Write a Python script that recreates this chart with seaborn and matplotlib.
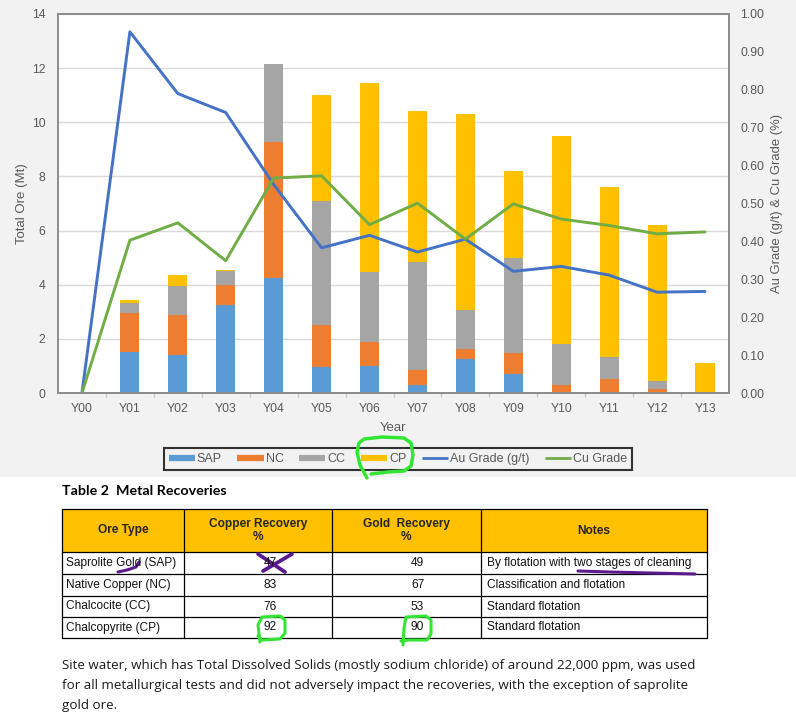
import numpy as np
import pandas as pd
import seaborn as sns
import matplotlib.pyplot as plt
from matplotlib.patches import Rectangle
from matplotlib.lines import Line2D

# ore production by type (Mt) and head grades
years = ['Y00', 'Y01', 'Y02', 'Y03', 'Y04', 'Y05', 'Y06',
         'Y07', 'Y08', 'Y09', 'Y10', 'Y11', 'Y12', 'Y13']
sap = [0, 1.51, 1.40, 3.25, 4.25, 0.97, 0.99, 0.28, 1.26, 0.70, 0.0, 0.0, 0.0, 0.0]
nc = [0, 1.45, 1.49, 0.73, 5.02, 1.55, 0.91, 0.58, 0.38, 0.78, 0.31, 0.53, 0.15, 0.0]
cc = [0, 0.37, 1.05, 0.54, 2.88, 4.56, 2.57, 3.98, 1.41, 3.51, 1.50, 0.79, 0.28, 0.0]
cp = [0, 0.12, 0.43, 0.04, 0.0, 3.91, 6.98, 5.57, 7.26, 3.20, 7.69, 6.28, 5.76, 1.10]
au_grade = [0, 0.953, 0.790, 0.740, 0.550, 0.383, 0.416, 0.372, 0.406, 0.321, 0.334, 0.311, 0.266, 0.268]
cu_grade = [0, 0.403, 0.449, 0.349, 0.567, 0.573, 0.444, 0.501, 0.406, 0.499, 0.459, 0.442, 0.420, 0.425]

# table 2
headers = ['Ore Type', 'Copper Recovery\n%', 'Gold  Recovery\n%', 'Notes']
ore_types = ['Saprolite Gold (SAP)', 'Native Copper (NC)', 'Chalcocite (CC)', 'Chalcopyrite (CP)']
cu_rec = ['47', '83', '76', '92']
au_rec = ['49', '67', '53', '90']
notes = ['By flotation with two stages of cleaning', 'Classification and flotation',
         'Standard flotation', 'Standard flotation']
paragraph = ['Site water, which has Total Dissolved Solids (mostly sodium chloride) of around 22,000 ppm, was used',
             'for all metallurgical tests and did not adversely impact the recoveries, with the exception of saprolite',
             'gold ore.']

colors = {'SAP': '#5B9BD5', 'NC': '#ED7D31', 'CC': '#A5A5A5', 'CP': '#FFC000'}
au_col = '#4472C4'
cu_col = '#70AD47'
bg = '#f2f2f2'
txt = '#595959'

sns.set_theme(style='white')
plt.rcParams['font.family'] = ['Liberation Sans', 'DejaVu Sans']

W, H = 796, 714
fig = plt.figure(figsize=(W / 100, H / 100), dpi=100, facecolor='white')
fig.add_artist(Rectangle((0, 1 - 477 / H), 1, 477 / H, transform=fig.transFigure,
                         facecolor=bg, edgecolor='none', zorder=-10))

ax = fig.add_axes([58 / W, 1 - 393 / H, (729 - 58) / W, (393 - 14) / H])
ax.set_facecolor('white')

df = pd.DataFrame({'Year': years, 'SAP': sap, 'NC': nc, 'CC': cc, 'CP': cp})
df['c1'] = df['SAP']
df['c2'] = df['c1'] + df['NC']
df['c3'] = df['c2'] + df['CC']
df['c4'] = df['c3'] + df['CP']

# stacked bars: draw cumulative totals from the top down
for col, key in [('c4', 'CP'), ('c3', 'CC'), ('c2', 'NC'), ('c1', 'SAP')]:
    sns.barplot(data=df, x='Year', y=col, color=colors[key], width=0.4,
                saturation=1, linewidth=0, errorbar=None, ax=ax)

ax.set_xlim(-0.5, 13.5)
ax.set_ylim(0, 14)
ax.set_yticks(range(0, 15, 2))
ax.set_xticks(np.arange(0.5, 13, 1), minor=True)
ax.yaxis.grid(True, color='#d9d9d9', lw=1)
ax.set_axisbelow(True)
ax.set_xlabel('Year', fontsize=9.5, color=txt, labelpad=5)
ax.set_ylabel('Total Ore (Mt)', fontsize=9.5, color=txt, labelpad=3)
ax.tick_params(axis='both', length=0, labelsize=8.7, labelcolor=txt)
ax.tick_params(axis='x', which='minor', length=3, width=1, color='#c8c8c8', bottom=True)
ax.tick_params(axis='x', pad=7)
ax.tick_params(axis='y', pad=9)

ax2 = ax.twinx()
idx = np.arange(len(years))
sns.lineplot(x=idx, y=au_grade, color=au_col, lw=2.1, ax=ax2)
sns.lineplot(x=idx, y=cu_grade, color=cu_col, lw=2.1, ax=ax2)
ax2.set_ylim(0, 1)
ax2.set_yticks(np.arange(0, 1.01, 0.1))
ax2.set_yticklabels([f'{v:.2f}' for v in np.arange(0, 1.01, 0.1)])
ax2.tick_params(axis='y', length=0, labelsize=8.7, labelcolor=txt, pad=8)
ax2.set_ylabel('Au Grade (g/t) & Cu Grade (%)', fontsize=9.4, color=txt, labelpad=5)
ax2.grid(False)
for a in (ax, ax2):
    for s in a.spines.values():
        s.set_color('#8c8c8c')
        s.set_linewidth(1.2)

handles = [Line2D([], [], color=colors[k], lw=4.5, solid_capstyle='butt') for k in ['SAP', 'NC', 'CC', 'CP']]
handles += [Line2D([], [], color=au_col, lw=2, solid_capstyle='butt'),
            Line2D([], [], color=cu_col, lw=2, solid_capstyle='butt')]
leg = fig.legend(handles, ['SAP', 'NC', 'CC', 'CP', 'Au Grade (g/t)', 'Cu Grade'],
                 loc='center', bbox_to_anchor=(398 / W, 1 - 459 / H), ncol=6,
                 frameon=True, fancybox=False, fontsize=9, handlelength=2.1,
                 handletextpad=0.15, columnspacing=1.25, borderpad=0.4,
                 labelcolor=txt)
leg.get_frame().set_edgecolor('black')
leg.get_frame().set_linewidth(1.5)
leg.get_frame().set_facecolor(bg)

# overlay in pixel coordinates for table, text and pen marks
ov = fig.add_axes([0, 0, 1, 1], zorder=10)
ov.set_xlim(0, W)
ov.set_ylim(H, 0)
ov.axis('off')
ov.patch.set_alpha(0)

ov.text(62, 491, 'Table 2  Metal Recoveries', fontsize=10.3, fontweight='bold',
        family=['Lato', 'DejaVu Sans'], va='center', ha='left', color='black')

narrow = ['Liberation Sans Narrow', 'Liberation Sans', 'DejaVu Sans']
cols = [62, 184, 332, 481, 707]
rows = [509, 552, 574, 596, 617, 638]
ov.add_patch(Rectangle((cols[0], rows[0]), cols[-1] - cols[0], rows[1] - rows[0],
                       facecolor='#FFC000', edgecolor='none'))
for y in rows:
    ov.plot([cols[0], cols[-1]], [y, y], color='black', lw=0.9)
for x in cols:
    ov.plot([x, x], [rows[0], rows[-1]], color='black', lw=0.9)
for j, h in enumerate(headers):
    ov.text((cols[j] + cols[j + 1]) / 2, (rows[0] + rows[1]) / 2, h, ha='center', va='center',
            fontsize=8.6, fontweight='bold', family=narrow, linespacing=1.1)
for i in range(4):
    yc = (rows[i + 1] + rows[i + 2]) / 2
    ov.text(cols[0] + 4, yc, ore_types[i], ha='left', va='center', fontsize=8.6, family=narrow, color='#111111')
    ov.text((cols[1] + cols[2]) / 2 + 12, yc, cu_rec[i], ha='center', va='center', fontsize=8.6, family=narrow, color='#111111')
    ov.text((cols[2] + cols[3]) / 2 + 11, yc, au_rec[i], ha='center', va='center', fontsize=8.6, family=narrow, color='#111111')
    ov.text(cols[3] + 6, yc, notes[i], ha='left', va='center', fontsize=8.6, family=narrow, color='#111111')

for k, line in enumerate(paragraph):
    ov.text(62, 665 + k * 20.5, line, ha='left', va='center', fontsize=9.6,
            family=['Open Sans', 'DejaVu Sans'], color='#1a1a1a')

# hand-drawn marks
pen_g = '#33e633'
pen_p = '#5a1a8c'
ov.plot([367, 360, 357, 359, 364, 382, 404, 411, 413, 411, 404, 388, 371],
        [478, 465, 452, 443, 439, 437, 438, 443, 455, 466, 471, 472, 474],
        color=pen_g, lw=2.5, solid_capstyle='round', solid_joinstyle='round')
ov.plot([258, 285], [554, 572], color=pen_p, lw=2.7, solid_capstyle='round')
ov.plot([292, 263], [554, 571], color=pen_p, lw=2.7, solid_capstyle='round')
ov.plot([118, 127, 136, 139], [572, 570, 567, 562], color=pen_p, lw=2.2, solid_capstyle='round')
ov.plot([578, 610, 650, 695], [571, 572, 573, 574], color=pen_p, lw=2.2, solid_capstyle='round')
ov.plot([260, 258, 262, 280, 285, 285, 280, 262, 258],
        [642, 625, 617, 616, 620, 633, 639, 640, 636],
        color=pen_g, lw=2.2, solid_capstyle='round', solid_joinstyle='round')
ov.plot([403, 404, 406, 426, 431, 431, 427, 408, 401],
        [645, 628, 617, 616, 620, 634, 640, 640, 641],
        color=pen_g, lw=2.2, solid_capstyle='round', solid_joinstyle='round')

fig.savefig('out.png', dpi=100, facecolor=fig.get_facecolor())
